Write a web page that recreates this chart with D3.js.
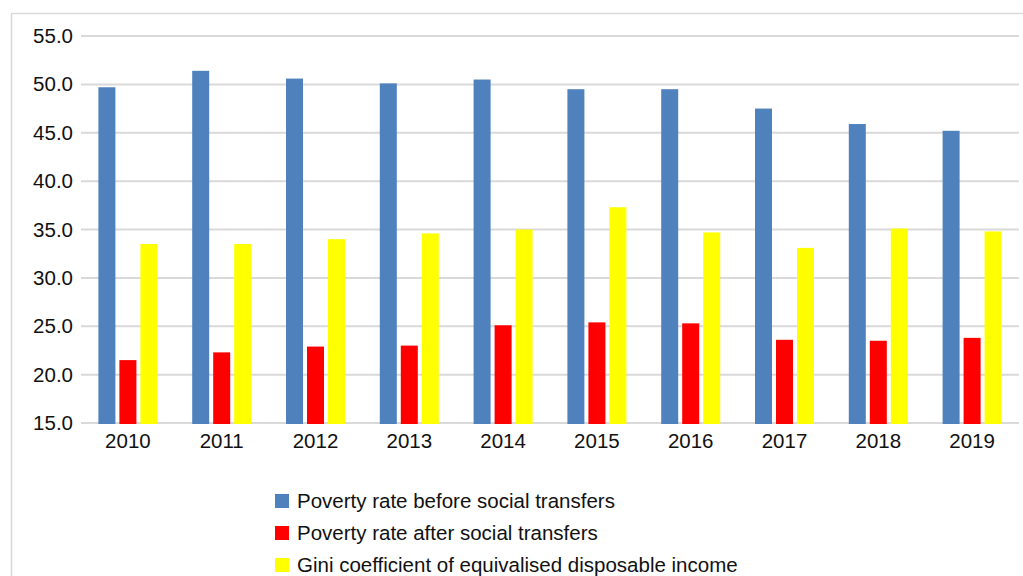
<!DOCTYPE html>
<html lang="en">
<head>
<meta charset="UTF-8">
<title>Poverty rate and Gini</title>
<script src="https://d3js.org/d3.v7.min.js"></script>
<style>
  body { margin: 0; background: #fff; }
  .tick text { font-family: "Liberation Sans", Arial, sans-serif; font-size: 20.5px; fill: #111; }
</style>
</head>
<body>
<svg width="1023" height="576" id="chart"></svg>
<script>
// data
var years = ["2010", "2011", "2012", "2013", "2014", "2015", "2016", "2017", "2018", "2019"];
var beforeTransfers = [49.7, 51.4, 50.6, 50.1, 50.5, 49.5, 49.5, 47.5, 45.9, 45.2];
var afterTransfers = [21.5, 22.3, 22.9, 23.0, 25.1, 25.4, 25.3, 23.6, 23.5, 23.8];
var gini = [33.5, 33.5, 34.0, 34.6, 35.0, 37.3, 34.7, 33.1, 35.1, 34.8];
var seriesNames = ["Poverty rate before social transfers", "Poverty rate after social transfers",
  "Gini coefficient of equivalised disposable income"];
var colors = ["#4f81bd", "#ff0000", "#ffff00"];
var yTicks = [15, 20, 25, 30, 35, 40, 45, 50, 55];

var svg = d3.select("#chart"),
    margin = { top: 36, left: 81, right: 4, bottom: 153 },
    width = +svg.attr("width") - margin.left - margin.right,
    height = +svg.attr("height") - margin.top - margin.bottom;

// outer chart frame
svg.append("rect")
  .attr("x", 11.5).attr("y", 13.5)
  .attr("width", 1030).attr("height", 600)
  .attr("fill", "none").attr("stroke", "#d9d9d9").attr("stroke-width", 1.5);

var g = svg.append("g").attr("transform", "translate(" + margin.left + "," + margin.top + ")");

var x = d3.scaleBand().domain(years).range([0, width]);
var y = d3.scaleLinear().domain([15, 55]).range([height, 0]);

var barW = 17, gap = 4;
var xs = d3.scaleBand().domain([0, 1, 2]).range([0, 3 * barW + 2 * gap]).paddingInner(gap / (barW + gap));

// gridlines
g.append("g").selectAll("line").data(yTicks).join("line")
  .attr("x1", 0).attr("x2", width)
  .attr("y1", function (d) { return y(d); }).attr("y2", function (d) { return y(d); })
  .attr("stroke", "#d9d9d9").attr("stroke-width", 2);

var yAxis = g.append("g")
  .call(d3.axisLeft(y).tickValues(yTicks).tickFormat(d3.format(".1f")).tickSize(0).tickPadding(8));
yAxis.select(".domain").remove();

var xAxis = g.append("g")
  .attr("transform", "translate(0," + height + ")")
  .call(d3.axisBottom(x).tickSize(0).tickPadding(8));
xAxis.select(".domain").remove();
xAxis.selectAll("text").attr("dy", "0.85em");

var all = [beforeTransfers, afterTransfers, gini];
var groupW = 3 * barW + 2 * gap;

all.forEach(function (vals, s) {
  g.append("g").selectAll("rect").data(vals).join("rect")
    .attr("x", function (d, i) { return x(years[i]) + x.bandwidth() / 2 - groupW / 2 + xs(s); })
    .attr("y", function (d) { return y(d); })
    .attr("width", xs.bandwidth())
    .attr("height", function (d) { return y(15) - y(d) + 1; })
    .attr("fill", colors[s]);
});

// legend
var legend = svg.append("g").attr("transform", "translate(275,494)");
seriesNames.forEach(function (name, i) {
  var row = legend.append("g").attr("transform", "translate(0," + (i * 32) + ")");
  row.append("rect").attr("width", 14).attr("height", 14).attr("fill", colors[i]);
  row.append("text")
    .attr("x", 22).attr("y", 7).attr("dy", "0.35em")
    .attr("font-family", "Liberation Sans, Arial, sans-serif")
    .attr("font-size", 20.5).attr("fill", "#111")
    .text(name);
});
</script>
</body>
</html>
